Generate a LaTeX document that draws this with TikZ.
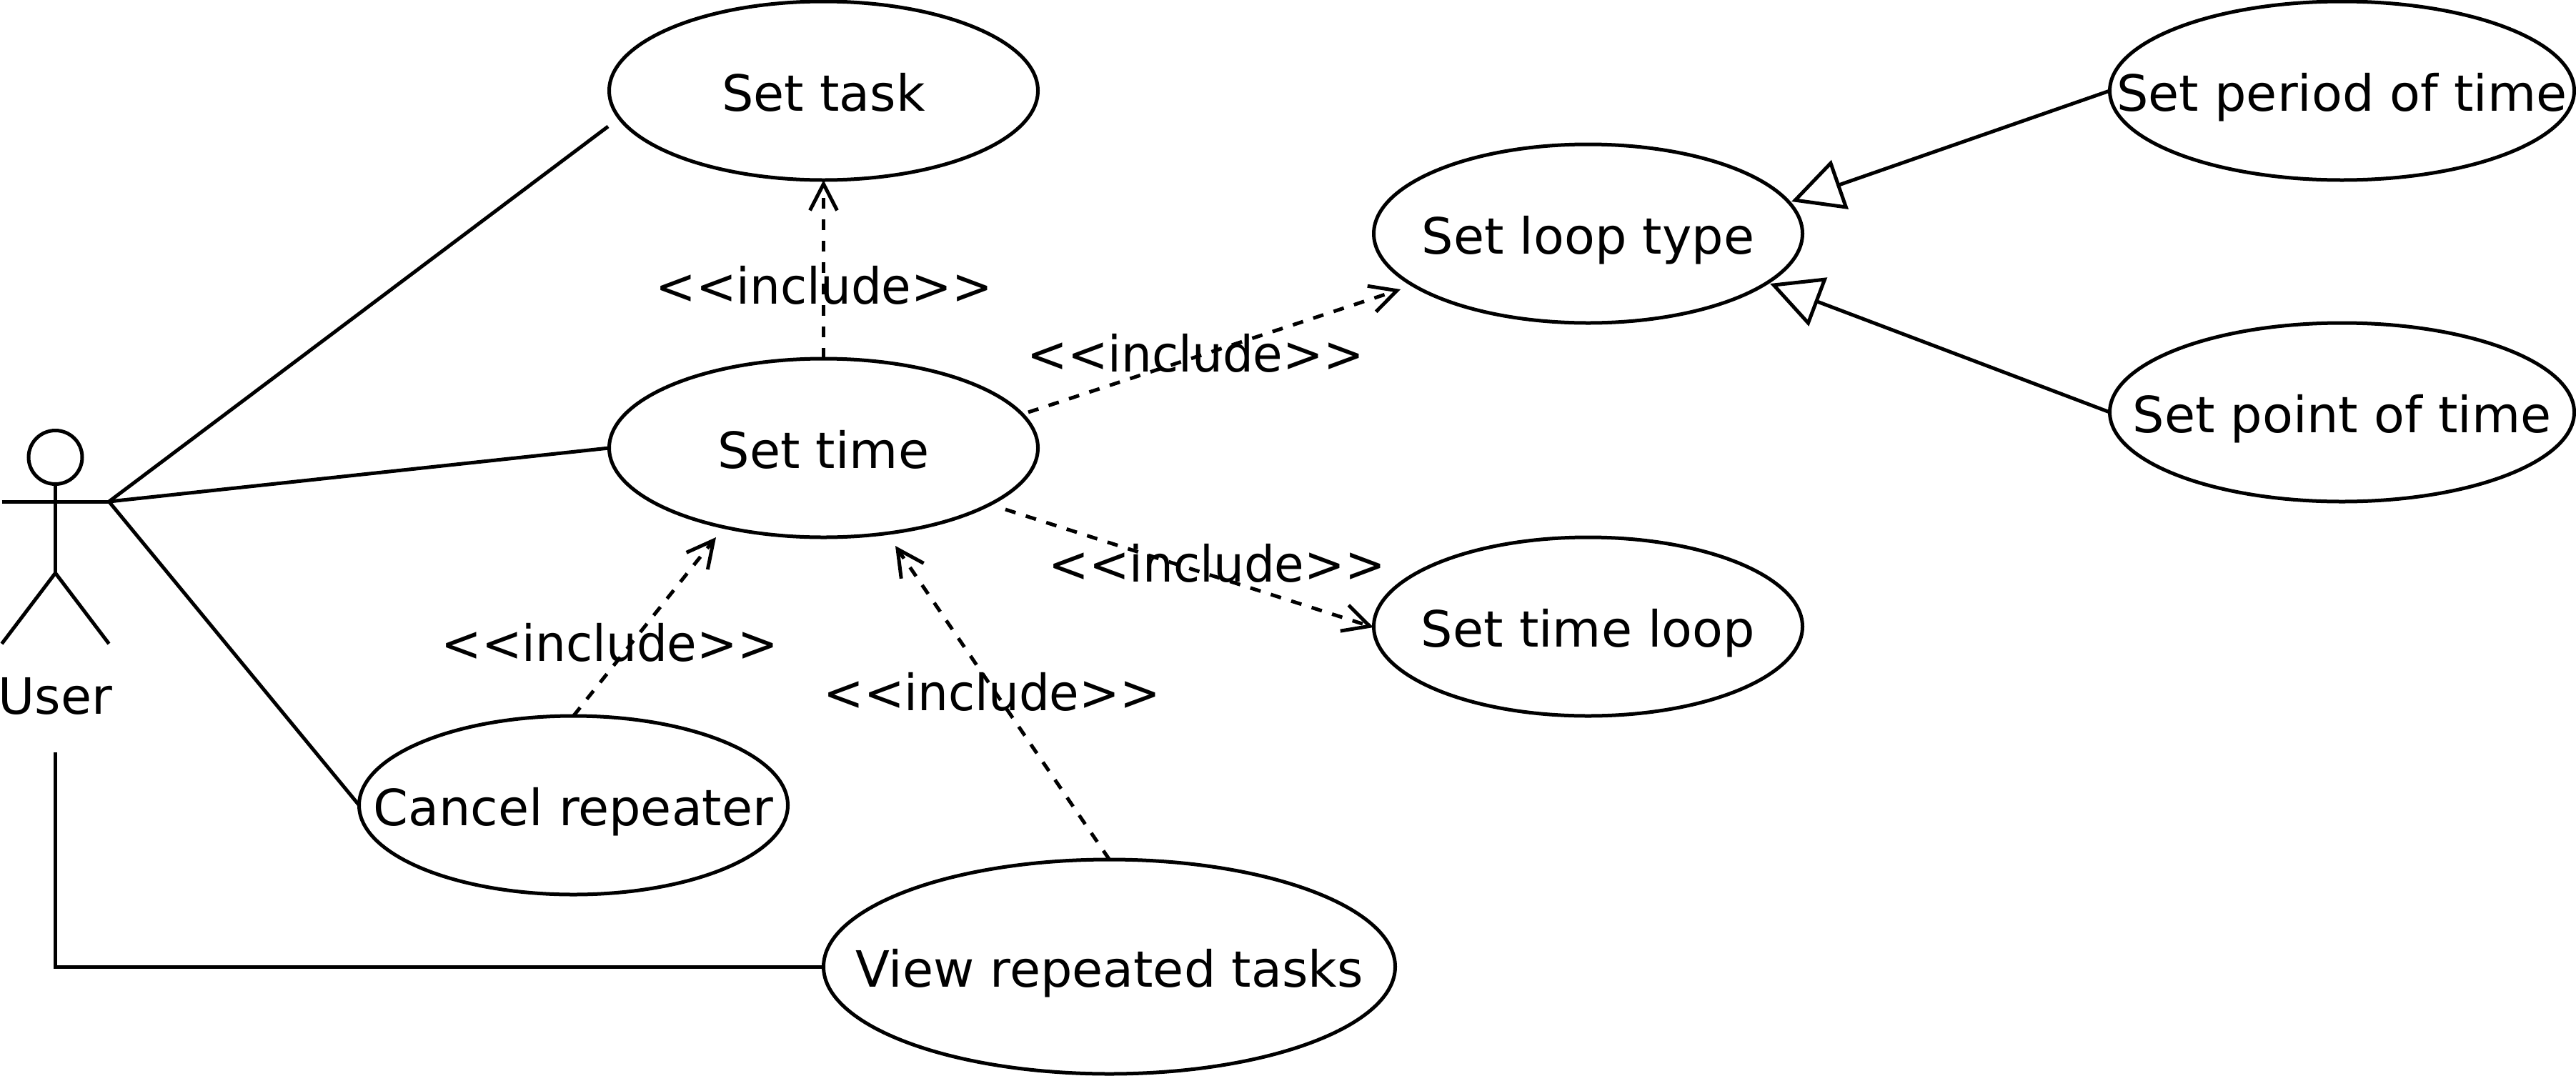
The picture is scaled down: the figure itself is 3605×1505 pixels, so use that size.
\documentclass[tikz,border=0pt]{standalone}
\usepackage{fontspec}
\setmainfont{DejaVu Sans}
\newfontfamily\inclfont[FakeStretch=0.965]{DejaVu Sans}
\usetikzlibrary{arrows.meta,shapes.geometric}
\newcommand{\incl}{{\inclfont <\kern0pt<include>\kern0pt>}}
\newcommand{\ztxt}[1]{\makebox[0pt][c]{#1}}
\tikzset{
  uc/.style={draw=black,ellipse,line width=5pt,inner sep=0pt,outer sep=0pt,
    font=\fontsize{70}{84}\selectfont,text height=61pt,text depth=5pt},
  uc60/.style={uc,minimum width=600pt,minimum height=250pt},
  uc65/.style={uc,minimum width=650pt,minimum height=250pt},
  uc80/.style={uc,minimum width=800pt,minimum height=300pt},
  lbl/.style={inner sep=0pt,outer sep=0pt,anchor=base,font=\fontsize{70}{84}\selectfont},
  assoc/.style={draw=black,line width=5pt},
  stick/.style={draw=black,line width=5pt,line cap=butt},
  incl/.style={draw=black,line width=5pt,dash pattern=on 15pt off 15pt,
    -{Straight Barb[length=37pt,width=38pt,line width=5pt]}},
  gen/.style={draw=black,line width=5pt,-{Triangle[open,length=72pt,width=72pt,line width=5pt,fill=white]}}
}
\begin{document}
\begin{tikzpicture}[x=1pt,y=-1pt,line join=miter]
\useasboundingbox (0,0) rectangle (3605,1505);
% use cases
\node[uc60] (settask) at (1152.5,127) {\ztxt{Set task}};
\node[uc60] (settime) at (1152.5,627) {\ztxt{Set time}};
\node[uc60] (looptype) at (2222.5,327) {\ztxt{Set loop type}};
\node[uc60] (timeloop) at (2222.5,877) {\ztxt{Set time loop}};
\node[uc60] (cancel) at (802.5,1127) {\ztxt{Cancel repeater}};
\node[uc65] (period) at (3277.5,127) {\ztxt{Set period of time}};
\node[uc65] (point) at (3277.5,577) {\ztxt{Set point of time}};
\node[uc80] (view) at (1552.5,1353) {\ztxt{View repeated tasks}};
% actor
\node[draw=black,circle,line width=5pt,minimum size=75pt,inner sep=0pt] (head) at (77.5,640) {};
\coordinate (larm) at (2.5,702);
\coordinate (rarm) at (152.5,702);
\coordinate (hip) at (77.5,802);
\coordinate (lfoot) at (2.5,901);
\coordinate (rfoot) at (152.5,901);
\draw[stick] (larm) -- (rarm);
\draw[stick] (head.south) -- (hip);
\draw[stick] (lfoot) -- (hip) -- (rfoot);
\node[lbl] (user) at (77.5,999) {User};
% free ends
\coordinate (taskin) at (851,177);
\coordinate (userbottom) at (77.5,1053);
\coordinate (corner) at (77.5,1353);
\coordinate (timeoutA) at (1439,577);
\coordinate (loopin) at (1960,405);
\coordinate (timeoutB) at (1407,713);
\coordinate (tlin) at (1922,878);
\coordinate (timeinA) at (1002,752);
\coordinate (timeinB) at (1253,764);
\coordinate (loopinA) at (2507,282);
\coordinate (loopinB) at (2477,397);
% associations
\draw[assoc] (rarm) -- (taskin);
\draw[assoc] (rarm) -- (settime.west);
\draw[assoc] (rarm) -- (cancel.west);
\draw[assoc] (userbottom) -- (corner) -- (view.west);
% includes
\draw[incl] (settime.north) -- (settask.south);
\draw[incl] (timeoutA) -- (loopin);
\draw[incl] (timeoutB) -- (tlin);
\draw[incl] (cancel.north) -- (timeinA);
\draw[incl] (view.north) -- (timeinB);
% generalisations
\draw[gen] (period.west) -- (loopinA);
\draw[gen] (point.west) -- (loopinB);
% labels
\node[lbl] (l1) at (1153,425) {\incl};
\node[lbl] (l2) at (1673,520) {\incl};
\node[lbl] (l3) at (1703,814) {\incl};
\node[lbl] (l4) at (853,925) {\incl};
\node[lbl] (l5) at (1388,994) {\incl};
\end{tikzpicture}
\end{document}
